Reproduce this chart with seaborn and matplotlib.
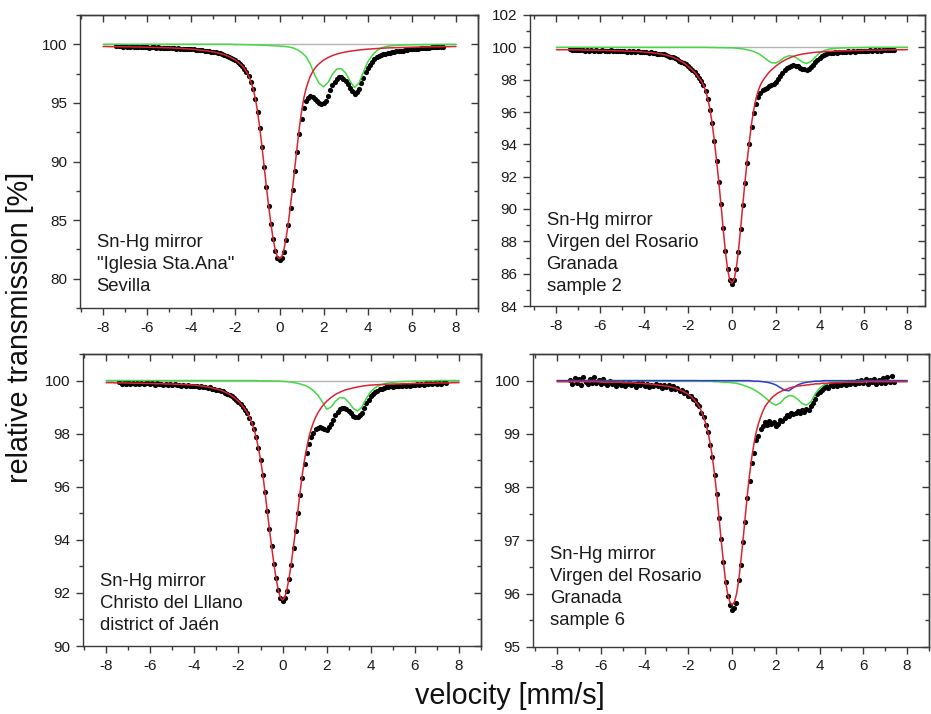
import numpy as np
import matplotlib
matplotlib.use("Agg")
import matplotlib.pyplot as plt
import seaborn as sns
from matplotlib.ticker import MultipleLocator

sns.set_theme(style="white")
plt.rcParams['font.family'] = ['Liberation Sans', 'DejaVu Sans']
plt.rcParams['axes.unicode_minus'] = False

# velocity channels: measured points, fine grid for the singlet fit, coarse grid for the other sub-spectra
vel_data = np.round(np.linspace(-7.4, 7.4, 149), 1)
vel_fine = np.round(np.linspace(-8, 8, 161), 1)
vel_coarse = np.round(np.linspace(-8, 8, 81), 1)
baseline_vel = [-8, 8]
baseline = [100, 100]

# ---- Sn-Hg mirror "Iglesia Sta.Ana" Sevilla ----
sevilla_counts = [
    99.85, 99.82, 99.86, 99.80, 99.83, 99.78, 99.81, 99.84, 99.79, 99.80,
    99.76, 99.79, 99.74, 99.78, 99.75, 99.72, 99.76, 99.73, 99.70, 99.74,
    99.70, 99.68, 99.72, 99.69, 99.66,
    99.69, 99.66, 99.63, 99.66, 99.62, 99.60, 99.63, 99.58, 99.60, 99.56,
    99.57, 99.52, 99.54, 99.49, 99.50, 99.44, 99.45, 99.39, 99.38, 99.33,
    99.31, 99.25, 99.22, 99.15, 99.10, 99.02, 98.95, 98.85, 98.75, 98.63,
    98.49, 98.33, 98.14, 97.92, 97.61, 97.26, 96.76, 96.15, 95.35, 94.24,
    92.83, 91.23, 89.52, 87.81, 86.20, 84.69, 83.38, 82.37, 81.76, 81.58,
    81.74, 82.32, 83.30, 84.58, 86.04, 87.60, 89.23, 90.85, 92.33, 93.60,
    94.53, 95.15, 95.43, 95.60, 95.48, 95.30, 95.17, 95.00, 94.92, 94.95,
    95.20, 95.62, 96.06, 96.49, 96.81, 97.07, 97.17, 97.19, 97.06, 96.90,
    96.58, 96.26, 95.99, 95.78, 95.94, 96.21, 96.68, 97.15, 97.62, 97.95,
    98.25, 98.50, 98.72, 98.88, 99.00, 99.08, 99.14, 99.20, 99.25, 99.29,
    99.33, 99.36, 99.40, 99.42, 99.46, 99.47, 99.51, 99.52, 99.56, 99.57,
    99.61, 99.60, 99.64, 99.65, 99.68, 99.67, 99.71, 99.70, 99.74, 99.73,
    99.77, 99.76, 99.79, 99.78,
]
sevilla_singlet = [
    99.81, 99.81, 99.81, 99.80, 99.80, 99.80, 99.80, 99.79, 99.79, 99.79,
    99.79, 99.78, 99.78, 99.78, 99.77, 99.77, 99.77, 99.76, 99.76, 99.75,
    99.75, 99.74, 99.74, 99.73, 99.73, 99.72, 99.72, 99.71, 99.71, 99.70,
    99.70, 99.69, 99.68, 99.67, 99.66, 99.65, 99.64, 99.62, 99.61, 99.60,
    99.59, 99.57, 99.55, 99.53, 99.51, 99.49, 99.46, 99.44, 99.41, 99.38,
    99.35, 99.31, 99.27, 99.22, 99.17, 99.11, 99.04, 98.96, 98.87, 98.76,
    98.65, 98.51, 98.35, 98.17, 97.95, 97.65, 97.30, 96.80, 96.20, 95.40,
    94.30, 92.90, 91.30, 89.60, 87.90, 86.30, 84.80, 83.50, 82.50, 81.90,
    81.70, 81.90, 82.50, 83.50, 84.80, 86.30, 87.90, 89.60, 91.30, 92.90,
    94.30, 95.40, 96.20, 96.80, 97.30, 97.65, 97.95, 98.17, 98.35, 98.51,
    98.65, 98.76, 98.87, 98.96, 99.04, 99.11, 99.17, 99.22, 99.27, 99.31,
    99.35, 99.38, 99.41, 99.44, 99.46, 99.49, 99.51, 99.53, 99.55, 99.57,
    99.59, 99.60, 99.61, 99.62, 99.64, 99.65, 99.66, 99.67, 99.68, 99.69,
    99.70, 99.70, 99.71, 99.71, 99.72, 99.72, 99.73, 99.73, 99.74, 99.74,
    99.75, 99.75, 99.76, 99.76, 99.77, 99.77, 99.77, 99.78, 99.78, 99.78,
    99.79, 99.79, 99.79, 99.79, 99.80, 99.80, 99.80, 99.80, 99.81, 99.81,
    99.81,
]
sevilla_doublet = [100.0] * 30 + [
    99.98, 99.98, 99.97, 99.96, 99.95, 99.94, 99.93, 99.91, 99.89, 99.87, 99.85,
    99.82, 99.78, 99.70, 99.55, 99.30, 98.95, 98.30, 97.35, 96.65, 96.38,
    96.75, 97.45, 97.90, 97.92, 97.55, 96.85, 96.32, 96.70, 97.60, 98.50,
    99.05, 99.45, 99.68, 99.80, 99.86, 99.90, 99.92, 99.94, 99.95, 99.96,
    99.97, 99.97, 99.98, 99.98, 99.98, 99.99, 99.99, 99.99, 100.0, 100.0,
]

# ---- Sn-Hg mirror Virgen del Rosario Granada, sample 2 ----
granada2_counts = [
    99.87, 99.83, 99.86, 99.82, 99.85, 99.81, 99.84, 99.80, 99.84, 99.80,
    99.83, 99.79, 99.82, 99.80, 99.78, 99.82, 99.78, 99.80, 99.77, 99.81,
    99.77, 99.79, 99.76, 99.79, 99.76,
    99.78, 99.74, 99.77, 99.74, 99.76, 99.73, 99.75, 99.71, 99.73, 99.70,
    99.71, 99.67, 99.69, 99.64, 99.65, 99.60, 99.61, 99.56, 99.56, 99.50,
    99.49, 99.42, 99.40, 99.31, 99.28, 99.18, 99.12, 99.02, 98.94, 98.82,
    98.72, 98.58, 98.46, 98.27, 98.10, 97.90, 97.65, 97.30, 96.80, 96.15,
    95.30, 94.20, 93.00, 91.70, 90.30, 88.80, 87.40, 86.30, 85.60, 85.38,
    85.58, 86.27, 87.36, 88.74, 90.22, 91.60, 92.87, 94.04, 95.10, 95.91,
    96.50, 96.94, 97.20, 97.36, 97.45, 97.51, 97.59, 97.65, 97.74, 97.87,
    98.04, 98.22, 98.40, 98.58, 98.71, 98.81, 98.86, 98.89, 98.86, 98.82,
    98.75, 98.68, 98.63, 98.62, 98.68, 98.78, 98.93, 99.09, 99.24, 99.37,
    99.46, 99.53, 99.58, 99.63, 99.65, 99.68, 99.70, 99.68, 99.72, 99.70,
    99.74, 99.72, 99.75, 99.73, 99.77, 99.74, 99.77, 99.75, 99.79, 99.76,
    99.79, 99.77, 99.81, 99.78, 99.81, 99.79, 99.82, 99.80, 99.84, 99.81,
    99.85, 99.82, 99.86, 99.84,
]
granada2_singlet = [
    99.86, 99.85, 99.85, 99.85, 99.85, 99.85, 99.85, 99.84, 99.84, 99.84,
    99.84, 99.84, 99.83, 99.83, 99.83, 99.83, 99.82, 99.82, 99.82, 99.82,
    99.81, 99.81, 99.81, 99.80, 99.80, 99.80, 99.79, 99.79, 99.79, 99.78,
    99.78, 99.77, 99.77, 99.76, 99.76, 99.75, 99.75, 99.74, 99.73, 99.72,
    99.71, 99.70, 99.69, 99.68, 99.66, 99.64, 99.62, 99.60, 99.58, 99.55,
    99.52, 99.48, 99.44, 99.39, 99.33, 99.27, 99.20, 99.12, 99.04, 98.94,
    98.84, 98.72, 98.60, 98.47, 98.29, 98.12, 97.92, 97.67, 97.32, 96.82,
    96.17, 95.32, 94.22, 93.02, 91.72, 90.32, 88.82, 87.42, 86.32, 85.62,
    85.42, 85.62, 86.32, 87.42, 88.82, 90.32, 91.72, 93.02, 94.22, 95.32,
    96.17, 96.82, 97.32, 97.67, 97.92, 98.12, 98.29, 98.47, 98.60, 98.72,
    98.84, 98.94, 99.04, 99.12, 99.20, 99.27, 99.33, 99.39, 99.44, 99.48,
    99.52, 99.55, 99.58, 99.60, 99.62, 99.64, 99.66, 99.68, 99.69, 99.70,
    99.71, 99.72, 99.73, 99.74, 99.75, 99.75, 99.76, 99.76, 99.77, 99.77,
    99.78, 99.78, 99.79, 99.79, 99.79, 99.80, 99.80, 99.80, 99.81, 99.81,
    99.81, 99.82, 99.82, 99.82, 99.82, 99.83, 99.83, 99.83, 99.83, 99.84,
    99.84, 99.84, 99.84, 99.84, 99.85, 99.85, 99.85, 99.85, 99.85, 99.85,
    99.86,
]
granada2_doublet = [100.0] * 35 + [
    99.99, 99.99, 99.98, 99.98, 99.97, 99.97,
    99.95, 99.92, 99.88, 99.82, 99.74, 99.62, 99.44, 99.22, 99.05, 99.03,
    99.18, 99.38, 99.48, 99.45, 99.30, 99.10, 99.00, 99.12, 99.40, 99.66,
    99.80, 99.88, 99.92, 99.95, 99.96, 99.97, 99.98, 99.98, 99.99, 99.99,
] + [100.0] * 10

# ---- Sn-Hg mirror Christo del Lllano, district of Jaén ----
jaen_counts = [
    99.93, 99.88, 99.92, 99.87, 99.93, 99.88, 99.91, 99.86, 99.90, 99.87,
    99.91, 99.86, 99.89, 99.92, 99.87, 99.89, 99.85, 99.90, 99.86, 99.88,
    99.84, 99.87, 99.83, 99.86, 99.84,
    99.86, 99.82, 99.85, 99.81, 99.84, 99.80, 99.83, 99.79, 99.81, 99.80,
    99.80, 99.77, 99.79, 99.75, 99.77, 99.73, 99.74, 99.70, 99.70, 99.66,
    99.65, 99.61, 99.59, 99.54, 99.51, 99.46, 99.41, 99.34, 99.28, 99.20,
    99.12, 99.01, 98.90, 98.76, 98.60, 98.40, 98.16, 97.86, 97.46, 97.01,
    96.46, 95.81, 95.10, 94.41, 93.76, 93.10, 92.55, 92.10, 91.79, 91.68,
    91.80, 92.09, 92.53, 93.07, 93.70, 94.34, 95.02, 95.70, 96.33, 96.85,
    97.26, 97.62, 97.86, 98.04, 98.16, 98.23, 98.24, 98.23, 98.19, 98.14,
    98.25, 98.36, 98.53, 98.70, 98.81, 98.92, 98.95, 98.97, 98.92, 98.86,
    98.77, 98.68, 98.64, 98.61, 98.69, 98.79, 98.96, 99.14, 99.27, 99.41,
    99.48, 99.57, 99.61, 99.67, 99.70, 99.72, 99.76, 99.74, 99.78, 99.76,
    99.80, 99.78, 99.81, 99.79, 99.83, 99.80, 99.84, 99.81, 99.85, 99.83,
    99.86, 99.84, 99.88, 99.85, 99.89, 99.86, 99.90, 99.87, 99.91, 99.88,
    99.92, 99.88, 99.93, 99.90,
]
jaen_singlet = [
    99.92, 99.92, 99.92, 99.92, 99.91, 99.91, 99.91, 99.91, 99.91, 99.91,
    99.91, 99.90, 99.90, 99.90, 99.90, 99.90, 99.90, 99.89, 99.89, 99.89,
    99.89, 99.89, 99.88, 99.88, 99.88, 99.88, 99.88, 99.87, 99.87, 99.87,
    99.87, 99.86, 99.86, 99.86, 99.85, 99.85, 99.85, 99.84, 99.84, 99.83,
    99.83, 99.82, 99.81, 99.80, 99.79, 99.77, 99.76, 99.74, 99.72, 99.70,
    99.68, 99.66, 99.63, 99.60, 99.56, 99.52, 99.48, 99.42, 99.36, 99.29,
    99.22, 99.13, 99.03, 98.91, 98.78, 98.62, 98.42, 98.18, 97.88, 97.48,
    97.03, 96.48, 95.83, 95.13, 94.43, 93.78, 93.13, 92.58, 92.13, 91.83,
    91.73, 91.83, 92.13, 92.58, 93.13, 93.78, 94.43, 95.13, 95.83, 96.48,
    97.03, 97.48, 97.88, 98.18, 98.42, 98.62, 98.78, 98.91, 99.03, 99.13,
    99.22, 99.29, 99.36, 99.42, 99.48, 99.52, 99.56, 99.60, 99.63, 99.66,
    99.68, 99.70, 99.72, 99.74, 99.76, 99.77, 99.79, 99.80, 99.81, 99.82,
    99.83, 99.83, 99.84, 99.84, 99.85, 99.85, 99.85, 99.86, 99.86, 99.86,
    99.87, 99.87, 99.87, 99.87, 99.88, 99.88, 99.88, 99.88, 99.88, 99.89,
    99.89, 99.89, 99.89, 99.89, 99.90, 99.90, 99.90, 99.90, 99.90, 99.90,
    99.91, 99.91, 99.91, 99.91, 99.91, 99.91, 99.91, 99.92, 99.92, 99.92,
    99.92,
]
jaen_doublet = [100.0] * 35 + [
    99.99, 99.99, 99.99, 99.98, 99.98, 99.97,
    99.96, 99.94, 99.91, 99.87, 99.82, 99.74, 99.62, 99.45, 99.20, 98.92,
    99.00, 99.22, 99.36, 99.34, 99.18, 98.96, 98.85, 99.00, 99.33, 99.58,
    99.73, 99.82, 99.88, 99.91, 99.93, 99.95, 99.96, 99.97, 99.97, 99.98,
    99.98, 99.99, 99.99, 99.99,
] + [100.0] * 6

# ---- Sn-Hg mirror Virgen del Rosario Granada, sample 6 ----
granada6_counts = [
    100.02, 99.93, 100.05, 99.95, 100.03, 99.92, 100.06, 99.97, 99.94, 100.04,
    99.96, 100.07, 99.95, 100.01, 99.93, 100.03, 99.96, 99.91, 100.00, 99.94,
    99.97, 99.90, 99.96, 99.92, 99.95,
    99.89, 99.93, 99.97, 99.91, 99.94, 99.88, 99.95, 99.91, 99.96, 99.90,
    99.93, 99.88, 99.92, 99.89, 99.94, 99.90, 99.92, 99.87, 99.91, 99.88,
    99.92, 99.85, 99.89, 99.84, 99.86, 99.80, 99.83, 99.76, 99.78, 99.72,
    99.72, 99.66, 99.63, 99.56, 99.52, 99.40, 99.32, 99.16, 99.04, 98.80,
    98.57, 98.22, 97.88, 97.42, 97.02, 96.60, 96.22, 95.96, 95.78, 95.70,
    95.74, 95.82, 96.25, 96.54, 96.98, 97.34, 97.80, 98.11, 98.45, 98.65,
    98.88, 98.97, 99.10, 99.14, 99.22, 99.17, 99.24, 99.18, 99.23, 99.15,
    99.19, 99.26, 99.24, 99.30, 99.36, 99.33, 99.39, 99.37, 99.40, 99.43,
    99.40, 99.45, 99.42, 99.47, 99.44, 99.52, 99.58, 99.65, 99.74, 99.78,
    99.83, 99.86, 99.90, 99.87, 99.92, 99.89, 99.94, 99.90, 99.95, 99.91,
    99.96, 99.92, 99.97, 99.93, 99.98, 99.94, 100.00, 99.95, 100.02, 99.96,
    100.03, 99.94, 100.01, 99.97, 100.04, 99.93, 100.02, 99.96, 100.05, 99.95,
    100.06, 99.97, 100.08, 99.98,
]
granada6_singlet = [99.98] * 20 + [99.97] * 10 + [99.96] * 6 + [99.95] * 4 + [
    99.94, 99.94, 99.94, 99.93, 99.93, 99.92, 99.92, 99.91, 99.91, 99.90,
    99.90, 99.89, 99.88, 99.87, 99.86, 99.84, 99.83, 99.81, 99.79, 99.77,
    99.74, 99.71, 99.67, 99.62, 99.57, 99.51, 99.42, 99.31, 99.19, 99.03,
    98.82, 98.56, 98.24, 97.87, 97.44, 97.01, 96.61, 96.24, 95.99, 95.84,
    95.79, 95.84, 95.99, 96.24, 96.61, 97.01, 97.44, 97.87, 98.24, 98.56,
    98.82, 99.03, 99.19, 99.31, 99.42, 99.51, 99.57, 99.62, 99.67, 99.71,
    99.74, 99.77, 99.79, 99.81, 99.83, 99.84, 99.86, 99.87, 99.88, 99.89,
    99.90, 99.90, 99.91, 99.91, 99.92, 99.92, 99.93, 99.93, 99.94, 99.94,
    99.94, 99.95, 99.95, 99.95, 99.95, 99.96, 99.96, 99.96, 99.96, 99.96,
] + [99.96] + [99.97] * 9 + [99.97] + [99.98] * 9 + [99.98] * 11
granada6_doublet = [100.0] * 33 + [
    99.99, 99.99, 99.99, 99.98, 99.98, 99.97, 99.97, 99.96,
    99.95, 99.93, 99.90, 99.87, 99.83, 99.78, 99.72, 99.65, 99.58, 99.54,
    99.58, 99.67, 99.72, 99.71, 99.65, 99.57, 99.54, 99.60, 99.75, 99.86,
    99.92, 99.95, 99.97, 99.98, 99.99, 99.99,
] + [100.0] * 14
granada6_singlet2 = [100.0] * 45 + [
    99.99, 99.99, 99.98, 99.97, 99.95, 99.92, 99.87, 99.82,
    99.81, 99.87, 99.92, 99.95, 99.97, 99.98, 99.99, 99.99,
] + [100.0] * 20

RED = '#db2332'
GREEN = '#44d844'
GRAY = '#b4b4b4'
BLUE = '#2c3ec6'
FRAME = '#3a3a3a'


def draw_panel(ax, counts, singlet, doublet, extra, xlim, ylim, ystep, label, text_y):
    sns.lineplot(x=baseline_vel, y=baseline, ax=ax, color=GRAY, lw=1.0, zorder=1,
                 estimator=None, sort=False)
    sns.scatterplot(x=vel_data, y=counts, ax=ax, color='black', s=14, linewidth=0,
                    zorder=2)
    sns.lineplot(x=vel_coarse, y=doublet, ax=ax, color=GREEN, lw=1.1, zorder=3,
                 estimator=None, sort=False)
    if extra is not None:
        sns.lineplot(x=vel_coarse, y=extra, ax=ax, color=BLUE, lw=1.1, zorder=3,
                     estimator=None, sort=False)
    sns.lineplot(x=vel_fine, y=singlet, ax=ax, color=RED, lw=1.1, zorder=4,
                 estimator=None, sort=False)

    ax.set_xlim(*xlim)
    ax.set_ylim(*ylim)
    ax.set_xlabel('')
    ax.set_ylabel('')
    ax.xaxis.set_major_locator(MultipleLocator(2))
    ax.xaxis.set_minor_locator(MultipleLocator(1))
    ax.yaxis.set_major_locator(MultipleLocator(ystep))
    ax.yaxis.set_minor_locator(MultipleLocator(ystep / 2))
    ax.tick_params(which='both', direction='out', bottom=True, left=True,
                   top=False, right=False, color=FRAME, width=1.0,
                   labelsize=11, labelcolor='#1a1a1a', pad=4)
    ax.tick_params(which='major', length=5)
    ax.tick_params(which='minor', length=3)
    for sp in ax.spines.values():
        sp.set_color(FRAME)
        sp.set_linewidth(1.0)

    # mirrored inward ticks on top and right
    top = ax.secondary_xaxis('top')
    top.xaxis.set_major_locator(MultipleLocator(2))
    top.xaxis.set_minor_locator(MultipleLocator(1))
    top.tick_params(which='both', direction='in', top=True, labeltop=False,
                    color=FRAME, width=1.0)
    right = ax.secondary_yaxis('right')
    right.yaxis.set_major_locator(MultipleLocator(ystep))
    right.yaxis.set_minor_locator(MultipleLocator(ystep / 2))
    right.tick_params(which='both', direction='in', right=True, labelright=False,
                      color=FRAME, width=1.0)
    for sec in (top, right):
        sec.tick_params(which='major', length=5)
        sec.tick_params(which='minor', length=3)
        for sp in sec.spines.values():
            sp.set_color(FRAME)
            sp.set_linewidth(1.0)

    ax.text(0.042, text_y, label, transform=ax.transAxes, ha='left', va='top',
            fontsize=13.3, linespacing=1.38, color='#1a1a1a')


W, H = 931, 714
fig = plt.figure(figsize=(W / 100, H / 100), dpi=100)

ax_tl = fig.add_axes([80 / W, 1 - 308 / H, 398 / W, 293 / H])
ax_tr = fig.add_axes([530 / W, 1 - 306 / H, 395 / W, 291 / H])
ax_bl = fig.add_axes([83 / W, 1 - 646 / H, 398 / W, 292 / H])
ax_br = fig.add_axes([533 / W, 1 - 647 / H, 396 / W, 293 / H])

draw_panel(ax_tl, sevilla_counts, sevilla_singlet, sevilla_doublet, None,
           (-9.05, 9.0), (77.5, 102.5), 5,
           'Sn-Hg mirror\n"Iglesia Sta.Ana"\nSevilla', 0.253)
draw_panel(ax_tr, granada2_counts, granada2_singlet, granada2_doublet, None,
           (-9.2, 8.8), (84, 102), 2,
           'Sn-Hg mirror\nVirgen del Rosario\nGranada\nsample 2', 0.323)
draw_panel(ax_bl, jaen_counts, jaen_singlet, jaen_doublet, None,
           (-9.05, 9.0), (90, 101), 2,
           'Sn-Hg mirror\nChristo del Lllano\ndistrict of Jaén', 0.25)
draw_panel(ax_br, granada6_counts, granada6_singlet, granada6_doublet, granada6_singlet2,
           (-9.1, 9.0), (95, 100.5), 1,
           'Sn-Hg mirror\nVirgen del Rosario\nGranada\nsample 6', 0.345)

fig.text(20 / W, 1 - 327 / H, 'relative transmission [%]', rotation=90,
         ha='center', va='center', fontsize=20.7, color='#111111')
fig.text(510 / W, 1 - 696 / H, 'velocity [mm/s]', ha='center', va='center',
         fontsize=20.7, color='#111111')

fig.savefig('out.png', dpi=100)
